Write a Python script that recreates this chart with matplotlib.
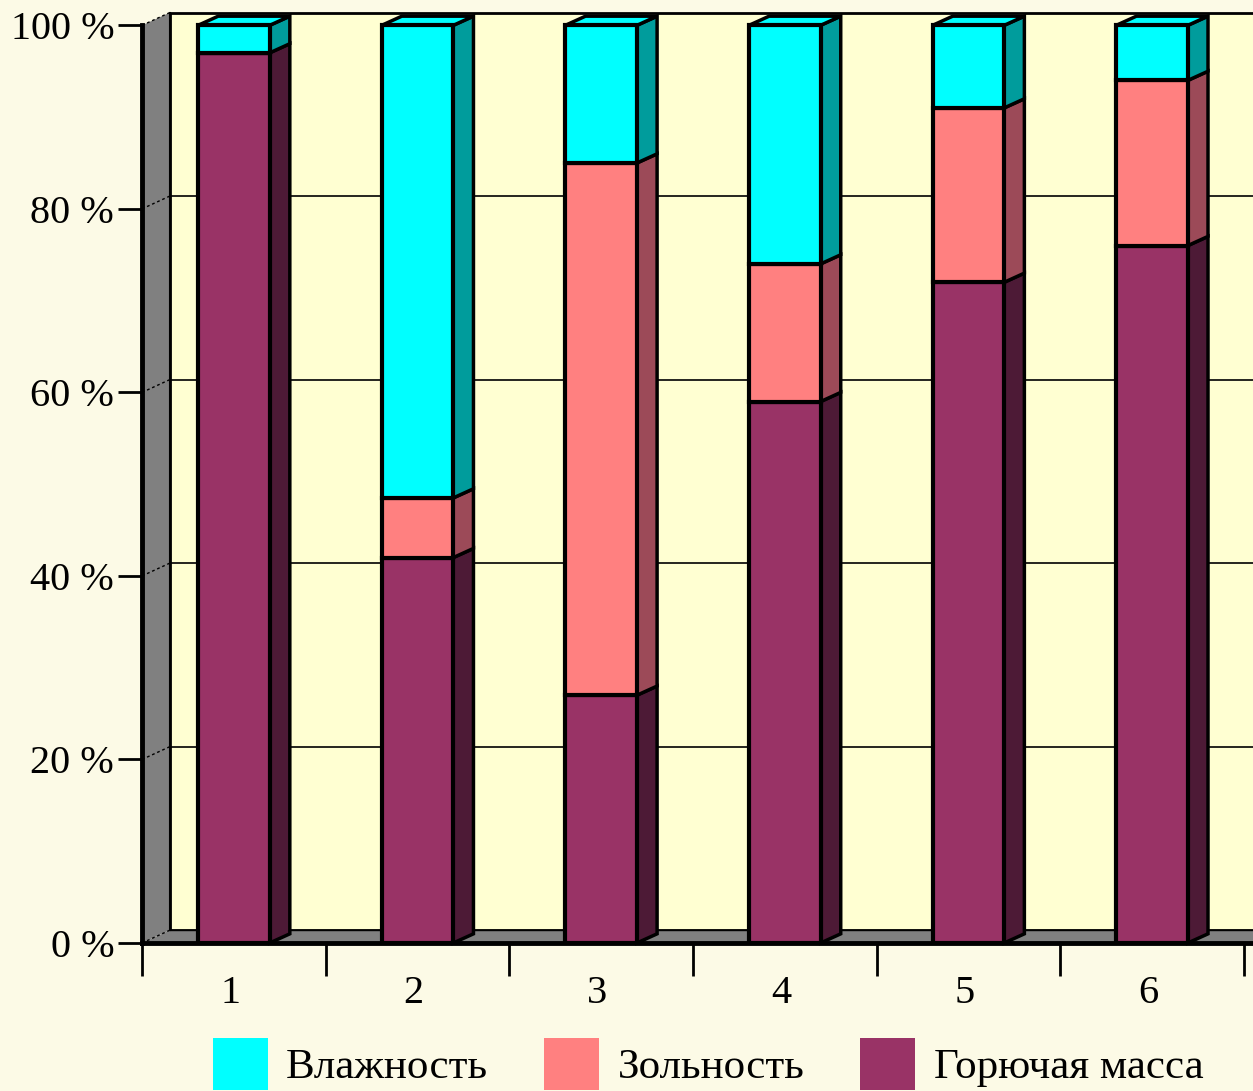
import numpy as np
import matplotlib
matplotlib.use('Agg')
import matplotlib.pyplot as plt
from matplotlib.patches import Polygon, Patch

# data (percent of total)
categories = ['1', '2', '3', '4', '5', '6']
goryuchaya = [97, 42, 27, 59, 72, 76]
zolnost = [0, 6.5, 58, 15, 19, 18]
vlazhnost = [3, 51.5, 15, 26, 9, 6]
series_names = ['Влажность', 'Зольность', 'Горючая масса']
yticks = [0, 20, 40, 60, 80, 100]

# colours: front face, side face
col_front = {'g': '#993366', 'z': '#FF8080', 'v': '#00FFFF'}
col_side = {'g': '#4D1A36', 'z': '#9C4A58', 'v': '#009C9C'}
fig_bg = '#FCFAE6'
wall_col = '#FFFFD2'
grey = '#808080'

plt.rcParams['font.family'] = ['Liberation Serif', 'DejaVu Serif']
plt.rcParams['font.size'] = 29

fig = plt.figure(figsize=(12.53, 10.91), dpi=100, facecolor=fig_bg)
ax = fig.add_axes([142 / 1253, 148 / 1091, 1 - 142 / 1253, 936 / 1091])
ax.set_facecolor('none')

x = np.arange(len(categories))
xmin, xmax = -0.5, 5.55
ax.set_xlim(xmin, xmax)
ax.set_ylim(0, 102)

# depth offsets in data units
wdx, wdy = 0.152, 1.4   # walls
bdx, bdy = 0.11, 1.0    # bars
bw = 0.39

# back wall + gridlines
ax.add_patch(Polygon([(xmin + wdx, wdy), (xmin + wdx, 100 + wdy), (xmax + 0.2, 100 + wdy),
                      (xmax + 0.2, wdy)], closed=True, facecolor=wall_col, edgecolor='black',
                     lw=2, zorder=0, clip_on=False))
for v in yticks[1:-1]:
    ax.plot([xmin + wdx, xmax], [v + wdy, v + wdy], color='black', lw=1.2, zorder=0.5)

# left side wall
ax.add_patch(Polygon([(xmin, 0), (xmin + wdx, wdy), (xmin + wdx, 100 + wdy), (xmin, 100)],
                     closed=True, facecolor=grey, edgecolor='none', zorder=0.6, clip_on=False))
for v in yticks:
    ax.plot([xmin, xmin + wdx], [v, v + wdy], color='black', lw=1, ls=(0, (2, 2)), zorder=0.7,
            clip_on=False)
ax.plot([xmin + wdx, xmin + wdx], [wdy, 100 + wdy], color='black', lw=1.5, zorder=0.7)

# floor
ax.add_patch(Polygon([(xmin, 0), (xmin + wdx, wdy), (xmax + 0.2, wdy), (xmax + 0.2, 0)],
                     closed=True, facecolor=grey, edgecolor='none', zorder=0.6, clip_on=False))
ax.plot([xmin + wdx, xmax], [wdy, wdy], color='black', lw=1, zorder=0.7)

# stacked 3d bars
stacks = [('g', goryuchaya), ('z', zolnost), ('v', vlazhnost)]
bottom = np.zeros(len(categories))
for key, vals in stacks:
    vals = np.asarray(vals, dtype=float)
    ax.bar(x, vals, bw, bottom=bottom, color=col_front[key], edgecolor='black', lw=3, zorder=3)
    for xi, b, h in zip(x, bottom, vals):
        if h <= 0:
            continue
        xr = xi + bw / 2
        ax.add_patch(Polygon([(xr, b), (xr + bdx, b + bdy), (xr + bdx, b + h + bdy), (xr, b + h)],
                             closed=True, facecolor=col_side[key], edgecolor='black', lw=2.5,
                             zorder=2, clip_on=False))
    bottom = bottom + vals

# top faces
for xi, top in zip(x, bottom):
    xl, xr = xi - bw / 2, xi + bw / 2
    ax.add_patch(Polygon([(xl, top), (xl + bdx, top + bdy), (xr + bdx, top + bdy), (xr, top)],
                         closed=True, facecolor=col_front['v'], edgecolor='black', lw=2.5,
                         zorder=2.5, clip_on=False))

# axes styling
for s in ['top', 'right']:
    ax.spines[s].set_visible(False)
ax.spines['left'].set_bounds(0, 100)
ax.spines['left'].set_linewidth(3.5)
ax.spines['bottom'].set_linewidth(3.5)
ax.spines['left'].set_zorder(4)
ax.spines['bottom'].set_zorder(4)

ax.set_yticks(yticks)
ax.set_yticklabels([f'{v} %' for v in yticks])
ax.tick_params(axis='y', direction='out', length=17, width=2, pad=3)

ax.set_xticks(x - 0.02)
ax.set_xticklabels(categories)
ax.set_xticks(np.arange(-0.5, 6.0, 1.0), minor=True)
ax.tick_params(axis='x', which='major', length=0, pad=23)
ax.tick_params(axis='x', which='minor', direction='out', length=24, width=2)

# legend
handles = [Patch(facecolor=col_front['v'], edgecolor='none'),
           Patch(facecolor=col_front['z'], edgecolor='none'),
           Patch(facecolor=col_front['g'], edgecolor='none')]
fig.legend(handles, series_names, loc='center left', bbox_to_anchor=(213 / 1253, 1 - 1064 / 1091),
           ncol=3, frameon=False, fontsize=31, handlelength=1.28, handleheight=1.45,
           handletextpad=0.42, columnspacing=1.3, borderpad=0, borderaxespad=0)

fig.savefig('out.png', dpi=100, facecolor=fig_bg)
